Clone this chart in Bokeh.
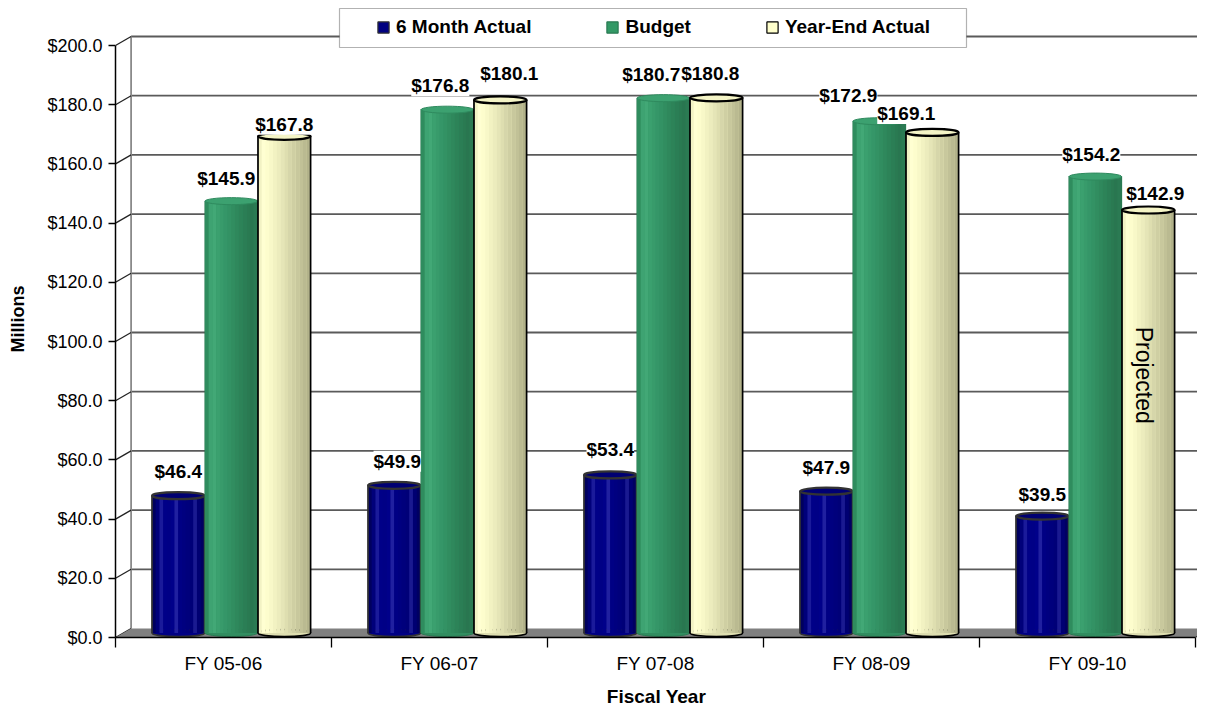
import numpy as np
from bokeh.plotting import figure
from bokeh.models import (ColumnDataSource, FixedTicker, PrintfTickFormatter, Legend,
                          LegendItem, LabelSet, Label, Range1d, BoxAnnotation)
from bokeh.embed import file_html
from bokeh.resources import INLINE
from bokeh.core.properties import value

# ---------------- data ----------------
categories = ["FY 05-06", "FY 06-07", "FY 07-08", "FY 08-09", "FY 09-10"]
six_month_actual = [46.4, 49.9, 53.4, 47.9, 39.5]
budget = [145.9, 176.8, 180.7, 172.9, 154.2]
year_end_actual = [167.8, 180.1, 180.8, 169.1, 142.9]
series_labels = ["6 Month Actual", "Budget", "Year-End Actual"]
y_ticks = [0, 20, 40, 60, 80, 100, 120, 140, 160, 180, 200]
projected_note = "Projected"

# ---------------- geometry / style ----------------
FONT = "Liberation Sans"
PX_PER_CAT = 216.0
PX_PER_UNIT = 2.96
FRAME_W = 1082
FRAME_H = 637
X_END = FRAME_W / PX_PER_CAT
Y_END = FRAME_H / PX_PER_UNIT
DX = 15.6 / PX_PER_CAT          # depth offset (x)
DY = 9.0 / PX_PER_UNIT          # depth offset (y)
BAR_W = 0.243
BAR_STEP = 0.2454
CAP_H = 7.0 / PX_PER_UNIT
N_STRIPS = 14
n_cat = len(categories)

# value-label nudges in screen pixels (dx right, dy up from cap centre)
label_dx = [[0, 3, 0, 0, 0], [-5, -7, -12, -31, -4], [0, 9, -6, -26, 7]]
label_dy = [[24, 24, 25, 24, 22], [23, 24, 24, 26, 22], [12, 26, 24, 19, 17]]

p = figure(frame_width=FRAME_W, frame_height=FRAME_H,
           x_range=Range1d(0, X_END), y_range=Range1d(0, Y_END),
           output_backend="svg", toolbar_location=None,
           min_border_left=115, min_border_right=0, min_border_top=0, min_border_bottom=0,
           background_fill_color="white", border_fill_color="white",
           outline_line_color=None)
p.xgrid.visible = False
p.ygrid.visible = False

# ---------------- back wall, floor ----------------
grid_vals = np.array(y_ticks[1:], dtype=float)
p.segment(x0=[DX] * len(grid_vals), y0=grid_vals + DY, x1=[X_END] * len(grid_vals),
          y1=grid_vals + DY, line_color="#5a5a5a", line_width=1.8)
p.segment(x0=[DX], y0=[DY], x1=[DX], y1=[y_ticks[-1] + DY], line_color="#8a8a8a", line_width=1.8)
tick_vals = np.array(y_ticks, dtype=float)
p.segment(x0=[0] * len(tick_vals), y0=tick_vals, x1=[DX] * len(tick_vals), y1=tick_vals + DY,
          line_color="#222222", line_width=1.3)
p.patch(x=[0, n_cat, n_cat + DX, DX], y=[0, 0, DY, DY], fill_color="#808080", line_color=None)
p.segment(x0=[n_cat], y0=[0], x1=[n_cat + DX], y1=[DY], line_color="#222222", line_width=1.3)

# ---------------- cylinders ----------------
series = [
    dict(vals=six_month_actual, base="#000080",
         grad=["#00005e", "#00007a", "#1a1a9a", "#000088", "#000086", "#00008a", "#2020a0",
               "#000084", "#000080", "#00007c", "#000078", "#1a1a90", "#000072", "#000062"],
         outline="#333333", outline_w=1.6, cap_fill="#000072", cap_line="#333333", cap_w=2.2),
    dict(vals=budget, base="#339966",
         grad=["#2f8c5e", "#3ea372", "#42a876", "#3ba06f", "#389b6b", "#359668", "#339264",
               "#318d60", "#2f885c", "#2d8358", "#2b7e55", "#2a7a52", "#297650", "#2b7a53"],
         outline=None, outline_w=0, cap_fill="#3ca170", cap_line="#2f8a5e", cap_w=1.0),
    dict(vals=year_end_actual, base="#ffffcc",
         grad=["#f2f2c4", "#ffffd2", "#fdfdcd", "#f8f8c8", "#f2f2c2", "#ececbd", "#e5e5b7",
               "#dedeb0", "#d6d6aa", "#cfcfa3", "#c8c89d", "#c1c197", "#baba91", "#b2b28a"],
         outline="#000000", outline_w=1.6, cap_fill="#f4f4c6", cap_line="#000000", cap_w=2.2),
]

legend_renderers = []
base_y = DY / 2.0
for k, s in enumerate(series):
    vals = np.array(s["vals"], dtype=float)
    centers = np.arange(n_cat) + 0.5 + DX / 2.0 + (k - 1) * BAR_STEP
    tops = vals + base_y
    edge = s["outline"] or "#2a7a52"
    # body base (also used for the legend swatch)
    r = p.vbar(x=centers, bottom=base_y, top=tops, width=BAR_W, fill_color=s["base"],
               line_color=edge, line_width=1.2)
    legend_renderers.append(r)
    # bottom rounded edge
    p.ellipse(x=centers, y=[base_y] * n_cat, width=BAR_W, height=CAP_H,
              fill_color=s["grad"][N_STRIPS // 2], line_color=edge,
              line_width=max(s["outline_w"], 1.0))
    # gradient strips
    sw = BAR_W / N_STRIPS
    offs = -BAR_W / 2 + (np.arange(N_STRIPS) + 0.5) * sw
    sx = (centers[:, None] + offs[None, :]).ravel()
    stop = np.repeat(tops, N_STRIPS)
    scol = list(s["grad"]) * n_cat
    src = ColumnDataSource(dict(x=sx, top=stop, color=scol))
    p.vbar(x="x", bottom=base_y, top="top", width=sw * 1.04, fill_color="color",
           line_color=None, source=src)
    # side outlines
    if s["outline"]:
        p.segment(x0=np.concatenate([centers - BAR_W / 2, centers + BAR_W / 2]),
                  y0=[base_y] * (2 * n_cat),
                  x1=np.concatenate([centers - BAR_W / 2, centers + BAR_W / 2]),
                  y1=np.concatenate([tops, tops]),
                  line_color=s["outline"], line_width=s["outline_w"])
    # top cap
    p.ellipse(x=centers, y=tops, width=BAR_W, height=CAP_H, fill_color=s["cap_fill"],
              line_color=s["cap_line"], line_width=s["cap_w"])
    # value labels
    lsrc = ColumnDataSource(dict(x=centers, y=tops, dx=label_dx[k], dy=label_dy[k],
                                 text=["${:.1f}".format(v) for v in vals]))
    p.add_layout(LabelSet(source=lsrc, x="x", y="y", text="text", x_offset="dx",
                          y_offset="dy", text_align="center", text_baseline="middle",
                          text_font=value(FONT), text_font_style="bold",
                          text_font_size="19px", text_color="black",
                          background_fill_color="white"))
    if k == 2:
        p.add_layout(Label(x=centers[-1], y=vals[-1] * 0.62, x_offset=-4, text=projected_note,
                           angle=-np.pi / 2, text_align="center", text_baseline="middle",
                           text_font=FONT, text_font_size="23px", text_color="black"))

# ---------------- legend ----------------
box = BoxAnnotation(left=224, right=851, top=FRAME_H - 8, bottom=FRAME_H - 47,
                    left_units="screen", right_units="screen", top_units="screen",
                    bottom_units="screen", fill_color="white", fill_alpha=1.0,
                    line_color="black", line_width=1.2)
p.add_layout(box)
legend = Legend(items=[LegendItem(label=lab, renderers=[r]) for lab, r in zip(series_labels, legend_renderers)],
                orientation="horizontal", location=(261, FRAME_H - 40), padding=6, spacing=74,
                label_standoff=6, glyph_width=14, glyph_height=14, label_height=26,
                label_text_font=FONT, label_text_font_style="bold", label_text_font_size="19px",
                label_text_color="black",
                border_line_color=None, background_fill_alpha=0, margin=0)
p.add_layout(legend)

# ---------------- axes ----------------
ya = p.yaxis[0]
ya.ticker = FixedTicker(ticks=y_ticks)
ya.formatter = PrintfTickFormatter(format="$%.1f")
ya.bounds = (y_ticks[0], y_ticks[-1])
ya.major_tick_out = 7
ya.major_tick_in = 0
ya.minor_tick_line_color = None
ya.axis_line_color = "black"
ya.axis_line_width = 1.5
ya.major_tick_line_color = "black"
ya.major_tick_line_width = 1.3
ya.major_label_text_font = FONT
ya.major_label_text_font_size = "18px"
ya.major_label_text_color = "black"
ya.major_label_standoff = 6
ya.axis_label = "Millions"
ya.axis_label_text_font = FONT
ya.axis_label_text_font_style = "bold"
ya.axis_label_text_font_size = "18px"
ya.axis_label_text_color = "black"
ya.axis_label_standoff = 16

xa = p.xaxis[0]
xa.ticker = FixedTicker(ticks=[i + 0.5 for i in range(n_cat)], minor_ticks=list(range(n_cat + 1)))
xa.major_label_overrides = {i + 0.5: c for i, c in enumerate(categories)}
xa.bounds = (0, n_cat)
xa.major_tick_out = 0
xa.major_tick_in = 0
xa.minor_tick_out = 10
xa.minor_tick_in = 0
xa.minor_tick_line_color = "black"
xa.minor_tick_line_width = 1.3
xa.axis_line_color = "black"
xa.axis_line_width = 1.5
xa.major_label_text_font = FONT
xa.major_label_text_font_size = "19px"
xa.major_label_text_color = "black"
xa.major_label_standoff = 5
xa.axis_label = "Fiscal Year"
xa.axis_label_text_font = FONT
xa.axis_label_text_font_style = "bold"
xa.axis_label_text_font_size = "19px"
xa.axis_label_text_color = "black"
xa.axis_label_standoff = 9

open("out.html", "w").write(file_html(p, INLINE))
